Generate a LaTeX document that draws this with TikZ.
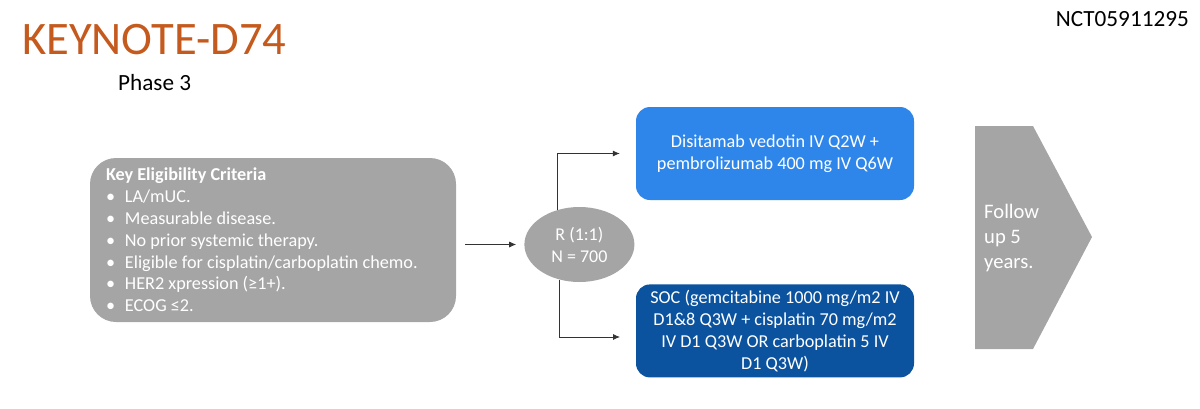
\documentclass[tikz,border=0pt]{standalone}
\usepackage{fontspec}
\setmainfont{Carlito}
\usepackage{tikz}
\usetikzlibrary{positioning,arrows.meta,shapes.geometric}
\definecolor{boxgray}{HTML}{A5A5A5}
\definecolor{armblue}{HTML}{2E86EA}
\definecolor{armnavy}{HTML}{0B539F}
\definecolor{titlerust}{HTML}{C55A1E}
\newcommand{\critem}[1]{\makebox[19pt][l]{\textbullet}#1}
\tikzset{
  critbox/.style={rectangle, rounded corners=26pt, fill=boxgray, text=white, minimum width=366pt, minimum height=164pt,
                  inner xsep=16pt, align=flush left, text width=334pt, font=\fontsize{18.2}{21.8}\selectfont},
  randnode/.style={ellipse, fill=boxgray, text=white, minimum width=110pt, minimum height=75pt, inner sep=0pt,
                   align=center, font=\fontsize{18}{22}\selectfont},
  armbox/.style={rectangle, rounded corners=14pt, text=white, minimum width=278pt, minimum height=93pt, inner sep=0pt,
                 align=flush center, text width=264pt, font=\fontsize{18.2}{22}\selectfont},
  fwd/.style={->, line width=0.8pt, draw=black!80, >={Latex[length=7pt,width=6pt]}},
}

\begin{document}
\begin{tikzpicture}[x=1pt,y=-1pt]
  \useasboundingbox (0,0) rectangle (1200,408);

  % headings
  \node[inner sep=0pt, anchor=base west, text=titlerust, font=\fontsize{46.6}{50}\selectfont] (title) at (22,54) {KEYNOTE-D74};
  \node[inner sep=0pt, anchor=base west, font=\fontsize{23.2}{26}\selectfont] (phase) at (118,90) {Phase 3};
  \node[inner sep=0pt, anchor=base east, font=\fontsize{23.2}{26}\selectfont] (nct) at (1189,26) {NCT05911295};

  % boxes
  \node[critbox] (crit) at (273,240) {\textbf{Key Eligibility Criteria}\\
    \critem{LA/mUC.}\\
    \critem{Measurable disease.}\\
    \critem{No prior systemic therapy.}\\
    \critem{Eligible for cisplatin/carboplatin chemo.}\\
    \critem{HER2 xpression (≥1+).}\\
    \critem{ECOG ≤2.}};
  \node[randnode] (rand) [right=68pt of crit, yshift=-4.5pt] {R (1:1)\\N = 700};
  \node[armbox, fill=armblue] (expArm) at (775,153.5) {Disitamab vedotin IV Q2W +\\pembrolizumab 400 mg IV Q6W};
  \node[armbox, fill=armnavy] (socArm) [below=84pt of expArm] {SOC (gemcitabine 1000 mg/m2 IV\\D1\&8 Q3W + cisplatin 70 mg/m2\\IV D1 Q3W OR carboplatin 5 IV\\D1 Q3W)};

  % follow up
  \fill[boxgray] (975,126) -- (1033,126) -- (1092,237) -- (1033,349) -- (975,349) -- cycle;
  \node[inner sep=0pt, anchor=west, text=white, align=left, font=\fontsize{20.6}{25}\selectfont] (follow) at (984,238) {Follow\\up 5\\years.};

  % arrows
  \coordinate (socTip) at (620,337);
  \draw[fwd, shorten <=9pt, shorten >=8pt] (crit.east |- rand.west) -- (rand.west);
  \draw[fwd, shorten >=16pt] (rand.122) |- (expArm.west);
  \draw[fwd] (rand.241) |- (socTip);

\end{tikzpicture}
\end{document}
